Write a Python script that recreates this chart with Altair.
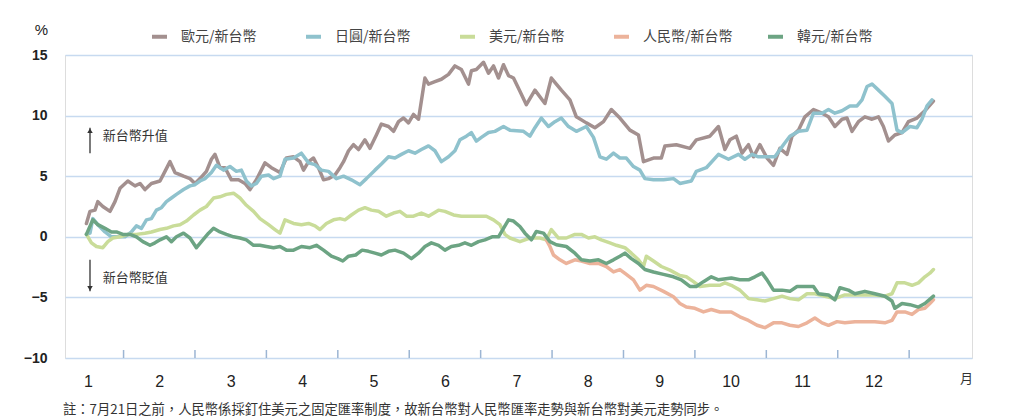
import altair as alt
import pandas as pd

# ---------------- data (month position, % change) ----------------
SERIES = ["歐元/新台幣", "日圓/新台幣", "美元/新台幣", "人民幣/新台幣", "韓元/新台幣"]
COLORS = ["#a3908f", "#8fc2cd", "#c9dc99", "#ecb39b", "#6ca483"]

EUR_T = [0.98, 1.03, 1.10, 1.14, 1.21, 1.31, 1.38, 1.45, 1.56, 1.66,
         1.73, 1.80, 1.89, 2.01, 2.08, 2.15, 2.22, 2.34, 2.43, 2.50,
         2.57, 2.66, 2.73, 2.78, 2.85, 2.92, 3.01, 3.11, 3.20, 3.27,
         3.36, 3.48, 3.57, 3.69, 3.78, 3.88, 3.97, 4.02, 4.09, 4.16,
         4.23, 4.30, 4.37, 4.46, 4.53, 4.58, 4.65, 4.72, 4.79, 4.88,
         4.95, 5.04, 5.11, 5.21, 5.28, 5.35, 5.42, 5.49, 5.56, 5.63,
         5.67, 5.72, 5.77, 5.86, 5.95, 6.05, 6.14, 6.23, 6.33, 6.37,
         6.44, 6.54, 6.61, 6.68, 6.75, 6.82, 6.89, 6.96, 7.05, 7.14,
         7.26, 7.40, 7.49, 7.63, 7.75, 7.84, 7.98, 8.10, 8.22, 8.33,
         8.45, 8.59, 8.71, 8.78, 8.92, 9.03, 9.08, 9.24, 9.43, 9.52,
         9.71, 9.83, 9.92, 9.99, 10.08, 10.16, 10.25, 10.32, 10.41, 10.51,
         10.60, 10.69, 10.79, 10.86, 10.95, 11.04, 11.16, 11.28, 11.37, 11.46,
         11.56, 11.63, 11.70, 11.79, 11.88, 11.98, 12.07, 12.14, 12.21, 12.30,
         12.40, 12.49, 12.61, 12.72, 12.84]
EUR_V = [1.1, 2.1, 2.2, 2.9, 2.5, 2.1, 2.9, 4.0, 4.6, 4.2,
         4.4, 3.9, 4.4, 4.6, 5.4, 6.2, 5.3, 5.0, 4.8, 4.4,
         4.8, 5.4, 6.4, 6.8, 5.7, 5.7, 4.7, 4.7, 4.4, 3.9,
         4.7, 6.1, 5.7, 5.3, 6.5, 6.6, 6.2, 5.5, 6.2, 6.5,
         5.7, 4.7, 4.8, 5.1, 5.7, 6.2, 7.1, 7.6, 7.2, 8.0,
         7.3, 8.4, 9.3, 9.1, 8.7, 9.5, 9.8, 9.4, 10.1, 9.7,
         11.2, 13.1, 12.6, 12.8, 13.0, 13.4, 14.1, 13.8, 12.6, 13.7,
         13.8, 14.4, 13.5, 14.1, 13.1, 14.2, 13.3, 13.1, 12.0, 10.9,
         12.1, 11.0, 13.1, 12.1, 11.3, 9.9, 9.4, 9.0, 9.5, 10.5,
         9.8, 8.8, 8.4, 6.2, 6.5, 6.5, 7.5, 7.6, 7.3, 8.0,
         8.3, 9.1, 7.2, 8.0, 8.3, 6.9, 7.6, 6.6, 7.6, 6.5,
         5.9, 7.3, 6.8, 8.3, 8.8, 9.9, 10.5, 10.2, 9.9, 9.1,
         9.7, 9.8, 8.7, 9.5, 9.9, 9.7, 9.9, 9.1, 7.9, 8.4,
         8.6, 9.5, 9.8, 10.4, 11.2]

JPY_T = [0.98, 1.03, 1.07, 1.14, 1.24, 1.33, 1.42, 1.52, 1.61, 1.68,
         1.75, 1.82, 1.89, 1.96, 2.03, 2.10, 2.17, 2.24, 2.34, 2.43,
         2.50, 2.57, 2.64, 2.73, 2.80, 2.90, 2.99, 3.08, 3.15, 3.22,
         3.29, 3.36, 3.43, 3.53, 3.60, 3.69, 3.76, 3.88, 3.99, 4.09,
         4.18, 4.27, 4.37, 4.48, 4.58, 4.69, 4.81, 4.90, 5.02, 5.11,
         5.21, 5.30, 5.39, 5.49, 5.58, 5.67, 5.77, 5.86, 5.95, 6.05,
         6.14, 6.21, 6.30, 6.37, 6.44, 6.51, 6.61, 6.70, 6.82, 6.91,
         7.10, 7.19, 7.26, 7.35, 7.45, 7.54, 7.63, 7.73, 7.84, 7.98,
         8.08, 8.17, 8.26, 8.36, 8.45, 8.54, 8.64, 8.73, 8.80, 8.92,
         9.06, 9.20, 9.29, 9.45, 9.52, 9.66, 9.83, 9.97, 10.11, 10.20,
         10.30, 10.39, 10.53, 10.62, 10.74, 10.83, 10.95, 11.07, 11.16, 11.28,
         11.37, 11.46, 11.56, 11.67, 11.77, 11.84, 11.91, 11.98, 12.07, 12.16,
         12.26, 12.33, 12.40, 12.51, 12.61, 12.68, 12.75, 12.82]
JPY_V = [0.2, 0.3, 1.5, 1.0, 0.4, 0.0, 0.0, 0.0, 0.4, 0.9,
         0.7, 1.4, 1.5, 2.2, 2.4, 2.9, 3.2, 3.5, 3.9, 4.2,
         4.3, 4.6, 4.8, 5.3, 5.9, 5.5, 5.8, 5.4, 5.5, 4.6,
         4.2, 4.4, 5.0, 5.1, 4.8, 5.0, 6.4, 6.5, 6.9, 6.1,
         5.95, 5.5, 5.4, 4.8, 5.0, 4.7, 4.3, 4.8, 5.5, 6.0,
         6.6, 6.5, 6.8, 7.1, 6.9, 7.2, 7.5, 7.1, 6.2, 6.6,
         7.1, 8.0, 8.3, 8.6, 7.9, 8.2, 8.6, 8.7, 9.1, 8.8,
         8.7, 8.3, 9.0, 9.8, 9.1, 9.5, 9.8, 9.1, 8.7, 9.1,
         8.2, 6.6, 6.4, 6.9, 6.5, 6.5, 5.8, 5.5, 4.8, 4.7,
         4.7, 4.8, 4.4, 4.6, 5.4, 5.7, 6.8, 6.4, 6.8, 6.4,
         6.8, 6.6, 6.6, 6.6, 7.6, 8.3, 8.7, 8.8, 10.2, 10.2,
         10.5, 10.2, 10.4, 10.8, 10.8, 11.3, 12.4, 12.6, 12.1, 11.6,
         11.0, 8.8, 8.6, 9.1, 9.0, 9.7, 10.8, 11.3]

USD_T = [0.98, 1.05, 1.12, 1.21, 1.28, 1.35, 1.45, 1.56, 1.68, 1.80,
         1.89, 2.01, 2.10, 2.20, 2.29, 2.38, 2.48, 2.57, 2.66, 2.76,
         2.85, 2.94, 3.04, 3.13, 3.22, 3.32, 3.41, 3.53, 3.62, 3.69,
         3.76, 3.88, 3.99, 4.09, 4.18, 4.25, 4.34, 4.44, 4.53, 4.60,
         4.69, 4.79, 4.88, 4.97, 5.07, 5.18, 5.28, 5.37, 5.46, 5.56,
         5.67, 5.77, 5.91, 6.00, 6.12, 6.23, 6.35, 6.47, 6.58, 6.68,
         6.77, 6.84, 6.91, 7.05, 7.19, 7.33, 7.42, 7.49, 7.59, 7.70,
         7.82, 7.91, 8.01, 8.10, 8.19, 8.31, 8.40, 8.52, 8.61, 8.71,
         8.78, 8.82, 8.92, 9.03, 9.15, 9.29, 9.38, 9.48, 9.57, 9.71,
         9.85, 9.92, 10.01, 10.13, 10.25, 10.37, 10.48, 10.60, 10.72, 10.83,
         10.95, 11.07, 11.18, 11.32, 11.46, 11.60, 11.74, 11.88, 12.02, 12.16,
         12.26, 12.33, 12.44, 12.54, 12.63, 12.72, 12.79, 12.84]
USD_V = [0.2, -0.5, -0.8, -0.9, -0.4, -0.1, 0.0, 0.2, 0.2, 0.3,
         0.4, 0.6, 0.7, 0.9, 1.0, 1.3, 1.8, 2.2, 2.5, 3.2,
         3.3, 3.5, 3.6, 3.2, 2.6, 2.1, 1.5, 1.0, 0.6, 0.3,
         1.4, 1.1, 1.0, 1.1, 0.9, 0.6, 1.1, 1.4, 1.5, 1.4,
         1.8, 2.2, 2.4, 2.2, 2.1, 1.7, 1.96, 2.1, 1.7, 1.7,
         1.96, 1.7, 2.2, 2.1, 1.8, 1.7, 1.7, 1.7, 1.7, 1.4,
         1.0, 0.2, -0.1, -0.4, -0.1, -0.1, -0.25, 0.6, -0.1, -0.1,
         0.2, 0.2, -0.1, 0.0, -0.25, -0.5, -0.7, -0.9, -1.35, -1.9,
         -2.45, -1.6, -2.0, -2.45, -2.75, -3.2, -3.3, -3.7, -4.1, -4.0,
         -4.0, -3.8, -4.0, -4.4, -5.1, -5.2, -5.3, -5.1, -4.9, -5.1,
         -5.2, -4.7, -4.7, -4.9, -5.1, -4.8, -4.8, -4.8, -4.8, -4.9,
         -4.7, -3.8, -3.8, -4.0, -3.8, -3.3, -3.0, -2.7]

# before 7/21 the CNY series coincides with USD, so only its own part is listed
CNY_T = [7.42, 7.47, 7.52, 7.61, 7.70, 7.82, 7.91, 8.03, 8.15, 8.26,
         8.36, 8.45, 8.54, 8.64, 8.73, 8.82, 8.92, 9.06, 9.20, 9.29,
         9.38, 9.50, 9.62, 9.73, 9.85, 10.01, 10.13, 10.25, 10.37, 10.48,
         10.60, 10.72, 10.83, 10.95, 11.07, 11.18, 11.28, 11.37, 11.49, 11.60,
         11.74, 11.88, 12.02, 12.16, 12.26, 12.33, 12.44, 12.54, 12.63, 12.72,
         12.79, 12.84]
CNY_V = [-0.25, -0.8, -1.5, -1.9, -2.2, -1.9, -2.0, -2.2, -2.2, -2.45,
         -2.9, -2.7, -3.1, -3.55, -4.4, -4.0, -4.1, -4.5, -4.95, -5.5,
         -5.8, -5.9, -6.2, -6.0, -6.2, -6.2, -6.6, -6.9, -7.3, -7.5,
         -7.1, -7.1, -7.3, -7.4, -7.1, -6.7, -7.1, -7.3, -7.0, -7.1,
         -7.0, -7.0, -7.0, -7.1, -6.9, -6.2, -6.2, -6.4, -6.0, -5.9,
         -5.5, -5.2]

KRW_T = [0.98, 1.07, 1.14, 1.24, 1.33, 1.40, 1.49, 1.59, 1.68, 1.77,
         1.87, 1.94, 2.01, 2.10, 2.17, 2.24, 2.34, 2.43, 2.52, 2.59,
         2.69, 2.76, 2.85, 2.94, 3.04, 3.13, 3.22, 3.32, 3.41, 3.50,
         3.60, 3.69, 3.78, 3.88, 3.99, 4.11, 4.20, 4.30, 4.41, 4.50,
         4.57, 4.65, 4.75, 4.84, 4.93, 5.02, 5.11, 5.21, 5.30, 5.42,
         5.53, 5.63, 5.72, 5.81, 5.91, 6.00, 6.09, 6.19, 6.28, 6.37,
         6.47, 6.56, 6.66, 6.75, 6.82, 6.89, 6.96, 7.05, 7.12, 7.21,
         7.28, 7.38, 7.47, 7.56, 7.70, 7.82, 7.91, 8.03, 8.15, 8.26,
         8.36, 8.45, 8.52, 8.61, 8.71, 8.80, 8.92, 9.06, 9.20, 9.31,
         9.43, 9.52, 9.62, 9.73, 9.83, 10.01, 10.13, 10.25, 10.34, 10.44,
         10.51, 10.60, 10.72, 10.83, 10.93, 11.04, 11.16, 11.23, 11.37, 11.46,
         11.53, 11.65, 11.74, 11.88, 12.02, 12.16, 12.26, 12.30, 12.40, 12.51,
         12.63, 12.72, 12.84]
KRW_V = [0.2, 1.4, 1.0, 0.7, 0.4, 0.4, 0.2, 0.2, 0.0, -0.4,
         -0.7, -0.5, -0.25, 0.0, -0.4, 0.0, 0.3, -0.1, -0.9, -0.4,
         0.3, 0.7, 0.4, 0.2, 0.0, -0.1, -0.25, -0.7, -0.7, -0.8,
         -0.9, -0.8, -1.1, -1.1, -0.8, -0.9, -0.7, -1.1, -1.6, -1.8,
         -2.0, -1.6, -1.5, -1.1, -1.2, -1.35, -1.5, -1.2, -1.1, -1.35,
         -1.8, -1.35, -0.8, -0.5, -0.7, -1.1, -0.8, -0.7, -0.5, -0.7,
         -0.4, -0.25, 0.0, 0.0, 0.7, 1.4, 1.3, 0.85, 0.3, -0.25,
         0.44, 0.3, -0.4, -0.66, -0.8, -1.35, -1.9, -2.0, -1.9, -2.2,
         -1.9, -1.6, -1.35, -1.8, -2.2, -2.7, -2.9, -3.1, -3.3, -3.55,
         -4.1, -4.1, -3.7, -3.3, -3.55, -3.4, -3.55, -3.55, -3.3, -3.0,
         -3.55, -4.4, -4.4, -4.5, -4.1, -4.1, -4.1, -4.7, -4.8, -5.2,
         -4.2, -4.4, -4.7, -4.5, -4.7, -4.9, -5.3, -5.9, -5.5, -5.6,
         -5.8, -5.5, -4.9]

MONTHS = list(range(1, 13))
MONTH_BOUNDS = [m + 0.5 for m in range(1, 13)]
Y_TICKS = [-10, -5, 0, 5, 10, 15]

NOTE_TEXT = ["新台幣升值", "新台幣貶值"]
NOTE_X = [1.21, 1.21]
NOTE_Y = [8.3, -3.4]
ARROW_X = [1.03, 1.03]
ARROW_FROM = [6.9, -1.9]
ARROW_TO = [9.0, -4.5]
HEAD_Y = [8.75, -4.25]
HEAD_SHAPE = ["triangle-up", "triangle-down"]

FOOTNOTE = "註：7月21日之前，人民幣係採釘住美元之固定匯率制度，故新台幣對人民幣匯率走勢與新台幣對美元走勢同步。"

# ---------------- tables ----------------
rows = []
for name, ts, vs in zip(SERIES, [EUR_T, JPY_T, USD_T, CNY_T, KRW_T],
                        [EUR_V, JPY_V, USD_V, CNY_V, KRW_V]):
    for t, v in zip(ts, vs):
        rows.append({"series": name, "t": t, "v": v})
df = pd.DataFrame(rows)
df["order"] = df["series"].map({s: i for i, s in enumerate(SERIES)})

notes = pd.DataFrame({"t": NOTE_X, "v": NOTE_Y, "txt": NOTE_TEXT})
arrows = pd.DataFrame({"t": ARROW_X, "v": ARROW_FROM, "v2": ARROW_TO})
heads = pd.DataFrame({"t": ARROW_X, "v": HEAD_Y, "shape": HEAD_SHAPE})
bounds = pd.DataFrame({"t": MONTH_BOUNDS})

W, H = 907, 303
FRAME = "#9cb5d3"
GRID = "#c7daf0"
CJK = "Noto Sans CJK TC"

xs = alt.Scale(domain=[0.68, 13.38], nice=False, zero=False)
ys = alt.Scale(domain=[-10, 15], nice=False, zero=False)

x_axis = alt.Axis(values=MONTHS, format="d", grid=False, ticks=False, domain=False,
                  labelFontSize=16, labelPadding=15, labelColor="#222",
                  labelFont="Liberation Sans", labelFlush=False,
                  title="月", titleX=901, titleY=20, titleAngle=0,
                  titleAlign="center", titleBaseline="middle",
                  titleFont=CJK, titleFontSize=13, titleFontWeight="normal",
                  titleColor="#333")
y_axis = alt.Axis(values=Y_TICKS, grid=True, gridColor=GRID, gridWidth=1.5,
                  ticks=False, domain=False, labelFontSize=14,
                  labelFontWeight="bold", labelColor="#222",
                  labelFont="Liberation Sans", labelPadding=18,
                  title="%", titleAngle=0, titleX=-24, titleY=-26,
                  titleAlign="center", titleBaseline="middle",
                  titleFont="Liberation Sans", titleFontSize=15,
                  titleFontWeight="normal", titleColor="#222")

lines = alt.Chart(df).mark_line(strokeWidth=3.5, strokeJoin="round",
                                strokeCap="round").encode(
    x=alt.X("t:Q", scale=xs, axis=x_axis),
    y=alt.Y("v:Q", scale=ys, axis=y_axis),
    color=alt.Color("series:N",
                    scale=alt.Scale(domain=SERIES, range=COLORS),
                    legend=alt.Legend(orient="none", legendX=85, legendY=-28,
                                      direction="horizontal", columns=5,
                                      gridAlign="all", columnPadding=27,
                                      symbolType="stroke", symbolStrokeWidth=4,
                                      symbolSize=225, labelFont=CJK,
                                      labelFontSize=14, labelColor="#444",
                                      labelOffset=12, title=None)),
    order=alt.Order("order:Q"),
)

tick_marks = alt.Chart(bounds).mark_rule(color=FRAME, strokeWidth=1.5).encode(
    x=alt.X("t:Q", scale=xs),
    y=alt.value(H),
    y2=alt.value(H - 8),
)

arrow_lines = alt.Chart(arrows).mark_rule(color="#333", strokeWidth=1.3).encode(
    x=alt.X("t:Q", scale=xs),
    y=alt.Y("v:Q", scale=ys),
    y2="v2:Q",
)
arrow_heads = alt.Chart(heads).mark_point(filled=True, color="#333", size=30,
                                          opacity=1).encode(
    x=alt.X("t:Q", scale=xs),
    y=alt.Y("v:Q", scale=ys),
    shape=alt.Shape("shape:N", scale=None),
)
note_text = alt.Chart(notes).mark_text(align="left", baseline="middle",
                                       font=CJK, fontSize=13,
                                       color="#333").encode(
    x=alt.X("t:Q", scale=xs),
    y=alt.Y("v:Q", scale=ys),
    text="txt:N",
)

chart = alt.layer(tick_marks, lines, arrow_lines, arrow_heads, note_text).properties(
    width=W, height=H,
    title=alt.TitleParams(text=FOOTNOTE, orient="bottom", anchor="start",
                          frame="group", dx=-2, offset=14, font=CJK,
                          fontSize=13.3, fontWeight="normal", color="#333"),
    padding={"left": 57, "top": 47, "right": 33, "bottom": 61},
    autosize=alt.AutoSizeParams(type="none"),
).configure_view(stroke=FRAME, strokeWidth=2).configure(background="white")

chart.save("out.html", embed_options={"renderer": "svg", "actions": False})
